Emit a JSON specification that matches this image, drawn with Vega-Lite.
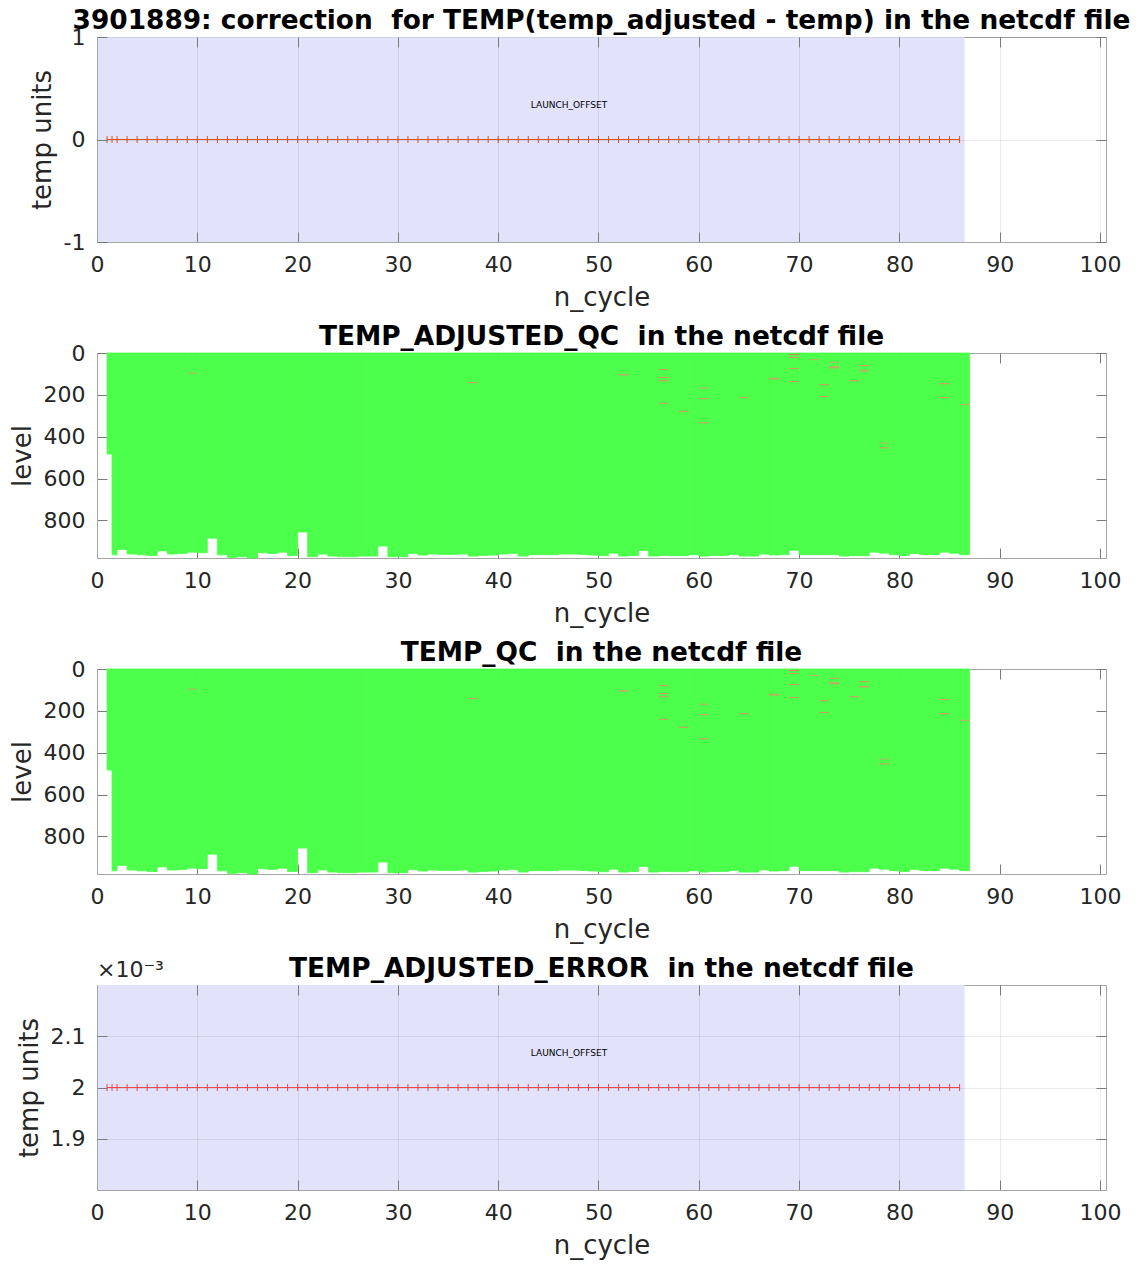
{
  "$schema": "https://vega.github.io/schema/vega-lite/v6.json",
  "padding": {"left": 8, "top": 7, "right": 10, "bottom": 10},
  "background": "white",
  "spacing": 111,
  "bounds": "flush",
  "datasets": {
    "cycles": [
      {"cycle":1,"depth":483,"corr":0,"err":0.002},
      {"cycle":1.5,"depth":965,"corr":0,"err":0.002},
      {"cycle":2,"depth":939,"corr":0,"err":0.002},
      {"cycle":3,"depth":961,"corr":0,"err":0.002},
      {"cycle":4,"depth":965,"corr":0,"err":0.002},
      {"cycle":5,"depth":968,"corr":0,"err":0.002},
      {"cycle":6,"depth":946,"corr":0,"err":0.002},
      {"cycle":7,"depth":961,"corr":0,"err":0.002},
      {"cycle":8,"depth":958,"corr":0,"err":0.002},
      {"cycle":9,"depth":952,"corr":0,"err":0.002},
      {"cycle":10,"depth":955,"corr":0,"err":0.002},
      {"cycle":11,"depth":885,"corr":0,"err":0.002},
      {"cycle":12,"depth":965,"corr":0,"err":0.002},
      {"cycle":13,"depth":977,"corr":0,"err":0.002},
      {"cycle":14,"depth":974,"corr":0,"err":0.002},
      {"cycle":15,"depth":980,"corr":0,"err":0.002},
      {"cycle":16,"depth":955,"corr":0,"err":0.002},
      {"cycle":17,"depth":958,"corr":0,"err":0.002},
      {"cycle":18,"depth":952,"corr":0,"err":0.002},
      {"cycle":19,"depth":968,"corr":0,"err":0.002},
      {"cycle":20,"depth":856,"corr":0,"err":0.002},
      {"cycle":21,"depth":974,"corr":0,"err":0.002},
      {"cycle":22,"depth":961,"corr":0,"err":0.002},
      {"cycle":23,"depth":971,"corr":0,"err":0.002},
      {"cycle":24,"depth":974,"corr":0,"err":0.002},
      {"cycle":25,"depth":974,"corr":0,"err":0.002},
      {"cycle":26,"depth":971,"corr":0,"err":0.002},
      {"cycle":27,"depth":971,"corr":0,"err":0.002},
      {"cycle":28,"depth":923,"corr":0,"err":0.002},
      {"cycle":29,"depth":974,"corr":0,"err":0.002},
      {"cycle":30,"depth":974,"corr":0,"err":0.002},
      {"cycle":31,"depth":958,"corr":0,"err":0.002},
      {"cycle":32,"depth":966,"corr":0,"err":0.002},
      {"cycle":33,"depth":961,"corr":0,"err":0.002},
      {"cycle":34,"depth":963,"corr":0,"err":0.002},
      {"cycle":35,"depth":963,"corr":0,"err":0.002},
      {"cycle":36,"depth":961,"corr":0,"err":0.002},
      {"cycle":37,"depth":971,"corr":0,"err":0.002},
      {"cycle":38,"depth":968,"corr":0,"err":0.002},
      {"cycle":39,"depth":966,"corr":0,"err":0.002},
      {"cycle":40,"depth":961,"corr":0,"err":0.002},
      {"cycle":41,"depth":958,"corr":0,"err":0.002},
      {"cycle":42,"depth":971,"corr":0,"err":0.002},
      {"cycle":43,"depth":964,"corr":0,"err":0.002},
      {"cycle":44,"depth":964,"corr":0,"err":0.002},
      {"cycle":45,"depth":964,"corr":0,"err":0.002},
      {"cycle":46,"depth":961,"corr":0,"err":0.002},
      {"cycle":47,"depth":961,"corr":0,"err":0.002},
      {"cycle":48,"depth":963,"corr":0,"err":0.002},
      {"cycle":49,"depth":966,"corr":0,"err":0.002},
      {"cycle":50,"depth":969,"corr":0,"err":0.002},
      {"cycle":51,"depth":957,"corr":0,"err":0.002},
      {"cycle":52,"depth":971,"corr":0,"err":0.002},
      {"cycle":53,"depth":968,"corr":0,"err":0.002},
      {"cycle":54,"depth":944,"corr":0,"err":0.002},
      {"cycle":55,"depth":971,"corr":0,"err":0.002},
      {"cycle":56,"depth":968,"corr":0,"err":0.002},
      {"cycle":57,"depth":969,"corr":0,"err":0.002},
      {"cycle":58,"depth":969,"corr":0,"err":0.002},
      {"cycle":59,"depth":964,"corr":0,"err":0.002},
      {"cycle":60,"depth":971,"corr":0,"err":0.002},
      {"cycle":61,"depth":968,"corr":0,"err":0.002},
      {"cycle":62,"depth":968,"corr":0,"err":0.002},
      {"cycle":63,"depth":963,"corr":0,"err":0.002},
      {"cycle":64,"depth":971,"corr":0,"err":0.002},
      {"cycle":65,"depth":971,"corr":0,"err":0.002},
      {"cycle":66,"depth":961,"corr":0,"err":0.002},
      {"cycle":67,"depth":966,"corr":0,"err":0.002},
      {"cycle":68,"depth":964,"corr":0,"err":0.002},
      {"cycle":69,"depth":943,"corr":0,"err":0.002},
      {"cycle":70,"depth":964,"corr":0,"err":0.002},
      {"cycle":71,"depth":964,"corr":0,"err":0.002},
      {"cycle":72,"depth":964,"corr":0,"err":0.002},
      {"cycle":73,"depth":964,"corr":0,"err":0.002},
      {"cycle":74,"depth":971,"corr":0,"err":0.002},
      {"cycle":75,"depth":969,"corr":0,"err":0.002},
      {"cycle":76,"depth":969,"corr":0,"err":0.002},
      {"cycle":77,"depth":952,"corr":0,"err":0.002},
      {"cycle":78,"depth":957,"corr":0,"err":0.002},
      {"cycle":79,"depth":964,"corr":0,"err":0.002},
      {"cycle":80,"depth":968,"corr":0,"err":0.002},
      {"cycle":81,"depth":958,"corr":0,"err":0.002},
      {"cycle":82,"depth":963,"corr":0,"err":0.002},
      {"cycle":83,"depth":964,"corr":0,"err":0.002},
      {"cycle":84,"depth":952,"corr":0,"err":0.002},
      {"cycle":85,"depth":957,"corr":0,"err":0.002},
      {"cycle":86,"depth":964,"corr":0,"err":0.002}
    ],
    "qc": [
      {"cycle":9,"lev_top":94,"lev_bot":99,"flag":"2"},
      {"cycle":37,"lev_top":139,"lev_bot":144,"flag":"3"},
      {"cycle":52,"lev_top":100,"lev_bot":108,"flag":"2"},
      {"cycle":56,"lev_top":77,"lev_bot":82,"flag":"3"},
      {"cycle":56,"lev_top":115,"lev_bot":120,"flag":"3"},
      {"cycle":56,"lev_top":130,"lev_bot":135,"flag":"3"},
      {"cycle":56,"lev_top":238,"lev_bot":243,"flag":"3"},
      {"cycle":58,"lev_top":276,"lev_bot":281,"flag":"3"},
      {"cycle":60,"lev_top":166,"lev_bot":171,"flag":"2"},
      {"cycle":60,"lev_top":216,"lev_bot":221,"flag":"3"},
      {"cycle":60,"lev_top":331,"lev_bot":336,"flag":"3"},
      {"cycle":64,"lev_top":211,"lev_bot":216,"flag":"3"},
      {"cycle":67,"lev_top":118,"lev_bot":128,"flag":"2"},
      {"cycle":69,"lev_top":5,"lev_bot":10,"flag":"4"},
      {"cycle":69,"lev_top":19,"lev_bot":24,"flag":"3"},
      {"cycle":69,"lev_top":72,"lev_bot":77,"flag":"3"},
      {"cycle":69,"lev_top":134,"lev_bot":139,"flag":"3"},
      {"cycle":71,"lev_top":29,"lev_bot":34,"flag":"2"},
      {"cycle":72,"lev_top":149,"lev_bot":154,"flag":"3"},
      {"cycle":72,"lev_top":206,"lev_bot":211,"flag":"3"},
      {"cycle":73,"lev_top":42,"lev_bot":47,"flag":"2"},
      {"cycle":73,"lev_top":62,"lev_bot":74,"flag":"2"},
      {"cycle":75,"lev_top":130,"lev_bot":135,"flag":"3"},
      {"cycle":76,"lev_top":58,"lev_bot":63,"flag":"3"},
      {"cycle":76,"lev_top":80,"lev_bot":89,"flag":"2"},
      {"cycle":78,"lev_top":428,"lev_bot":433,"flag":"2"},
      {"cycle":78,"lev_top":451,"lev_bot":456,"flag":"3"},
      {"cycle":84,"lev_top":144,"lev_bot":149,"flag":"3"},
      {"cycle":84,"lev_top":211,"lev_bot":216,"flag":"3"},
      {"cycle":86,"lev_top":243,"lev_bot":249,"flag":"2"}
    ],
    "method": [
      {"label":"LAUNCH_OFFSET","cycle_start":0,"cycle_end":86.5}
    ]
  },
  "config": {
    "font": "DejaVu Sans",
    "view": {"stroke": "#a6a6a6", "strokeWidth": 1},
    "axis": {
      "labelFont": "DejaVu Sans", "labelFontSize": 22, "labelColor": "#262626", "labelFlush": false,
      "titleFont": "DejaVu Sans", "titleFontSize": 26, "titleFontWeight": "normal", "titleColor": "#262626",
      "domainColor": "#a6a6a6", "tickColor": "#7a7a7a", "tickSize": -10, "labelPadding": 22, "grid": false
    },
    "axisX": {"titlePadding": 9},
    "axisY": {"titlePadding": 8},
    "title": {"font": "DejaVu Sans", "fontSize": 26.4, "fontWeight": "bold", "color": "#000000", "offset": -8}
  },
  "vconcat": [
    {
      "title": {"text": "3901889: correction \u00a0for TEMP(temp_adjusted - temp) in the netcdf file"},
      "width": 1009, "height": 205,
      "resolve": {"axis": {"x": "independent", "y": "independent"}},
      "layer": [
        {
          "data": {"name": "method"},
          "mark": {"type": "rect", "color": "#e2e2fb"},
          "encoding": {
            "x": {"field": "cycle_start", "type": "quantitative", "scale": {"domain": [0, 100.6], "nice": false, "padding": 0}, "axis": {"values": [0,10,20,30,40,50,60,70,80,90,100], "title": "n_cycle", "grid": true, "gridColor": "#262626", "gridOpacity": 0.09, "zindex": 1}},
            "x2": {"field": "cycle_end"}
          }
        },
        {
          "data": {"name": "cycles"},
          "mark": {"type": "line", "color": "#d95319", "strokeWidth": 1},
          "encoding": {
            "x": {"field": "cycle", "type": "quantitative", "axis": null},
            "y": {"field": "corr", "type": "quantitative", "scale": {"domain": [-1, 1], "nice": false, "padding": 0}, "axis": {"values": [-1, 0, 1], "labelExpr": "datum.value < 0 ? '-' + abs(datum.value) : '' + datum.value", "title": "temp units", "grid": true, "gridColor": "#262626", "gridOpacity": 0.09, "zindex": 1}}
          }
        },
        {
          "data": {"name": "cycles"},
          "mark": {"type": "tick", "orient": "vertical", "color": "#d95319", "size": 7, "thickness": 1, "opacity": 1},
          "encoding": {
            "x": {"field": "cycle", "type": "quantitative", "axis": {"orient": "top", "values": [0,10,20,30,40,50,60,70,80,90,100], "labels": false, "domain": false, "title": null, "grid": false, "zindex": 1}},
            "y": {"field": "corr", "type": "quantitative", "axis": {"orient": "right", "values": [-1, 0, 1], "labels": false, "domain": false, "title": null, "grid": false, "zindex": 1}}
          }
        },
        {
          "data": {"name": "method"},
          "mark": {"type": "text", "font": "DejaVu Sans", "fontSize": 9, "color": "#000000", "align": "left", "baseline": "middle"},
          "transform": [{"calculate": "(datum.cycle_start + datum.cycle_end) / 2", "as": "mid"}],
          "encoding": {
            "x": {"field": "mid", "type": "quantitative", "axis": null},
            "y": {"datum": 0.335, "axis": null},
            "text": {"field": "label"}
          }
        }
      ]
    },
    {
      "title": {"text": "TEMP_ADJUSTED_QC \u00a0in the netcdf file"},
      "width": 1009, "height": 205,
      "resolve": {"axis": {"x": "independent", "y": "independent"}},
      "layer": [
        {
          "data": {"name": "cycles"},
          "transform": [
            {"window": [{"op": "lead", "field": "cycle", "as": "next"}], "sort": [{"field": "cycle"}]},
            {"calculate": "datum.next == null ? datum.cycle + 1 : datum.next", "as": "cycle_end"}
          ],
          "mark": {"type": "bar", "orient": "vertical", "color": "#4bff4b", "stroke": "#4bff4b", "strokeWidth": 0.8},
          "encoding": {
            "x": {"field": "cycle", "type": "quantitative", "scale": {"domain": [0, 100.6], "nice": false, "padding": 0}, "axis": {"values": [0,10,20,30,40,50,60,70,80,90,100], "title": "n_cycle"}},
            "x2": {"field": "cycle_end"},
            "y": {"field": "depth", "type": "quantitative", "scale": {"domain": [0, 980], "nice": false, "reverse": true, "padding": 0}, "axis": {"values": [0,200,400,600,800], "title": "level"}}
          }
        },
        {
          "data": {"name": "qc"},
          "transform": [{"calculate": "datum.cycle + 1", "as": "cycle_end"}],
          "mark": {"type": "rect"},
          "encoding": {
            "x": {"field": "cycle", "type": "quantitative", "axis": {"orient": "top", "values": [0,10,20,30,40,50,60,70,80,90,100], "labels": false, "domain": false, "title": null}},
            "x2": {"field": "cycle_end"},
            "y": {"field": "lev_top", "type": "quantitative", "axis": {"orient": "right", "values": [0,200,400,600,800], "labels": false, "domain": false, "title": null}},
            "y2": {"field": "lev_bot"},
            "color": {"field": "flag", "type": "nominal", "scale": {"domain": ["2", "3", "4"], "range": ["#b4b45c", "#d39a5c", "#e07a5a"]}, "legend": null}
          }
        }
      ]
    },
    {
      "title": {"text": "TEMP_QC \u00a0in the netcdf file"},
      "width": 1009, "height": 205,
      "resolve": {"axis": {"x": "independent", "y": "independent"}},
      "layer": [
        {
          "data": {"name": "cycles"},
          "transform": [
            {"window": [{"op": "lead", "field": "cycle", "as": "next"}], "sort": [{"field": "cycle"}]},
            {"calculate": "datum.next == null ? datum.cycle + 1 : datum.next", "as": "cycle_end"}
          ],
          "mark": {"type": "bar", "orient": "vertical", "color": "#4bff4b", "stroke": "#4bff4b", "strokeWidth": 0.8},
          "encoding": {
            "x": {"field": "cycle", "type": "quantitative", "scale": {"domain": [0, 100.6], "nice": false, "padding": 0}, "axis": {"values": [0,10,20,30,40,50,60,70,80,90,100], "title": "n_cycle"}},
            "x2": {"field": "cycle_end"},
            "y": {"field": "depth", "type": "quantitative", "scale": {"domain": [0, 980], "nice": false, "reverse": true, "padding": 0}, "axis": {"values": [0,200,400,600,800], "title": "level"}}
          }
        },
        {
          "data": {"name": "qc"},
          "transform": [{"calculate": "datum.cycle + 1", "as": "cycle_end"}],
          "mark": {"type": "rect"},
          "encoding": {
            "x": {"field": "cycle", "type": "quantitative", "axis": {"orient": "top", "values": [0,10,20,30,40,50,60,70,80,90,100], "labels": false, "domain": false, "title": null}},
            "x2": {"field": "cycle_end"},
            "y": {"field": "lev_top", "type": "quantitative", "axis": {"orient": "right", "values": [0,200,400,600,800], "labels": false, "domain": false, "title": null}},
            "y2": {"field": "lev_bot"},
            "color": {"field": "flag", "type": "nominal", "scale": {"domain": ["2", "3", "4"], "range": ["#b4b45c", "#d39a5c", "#e07a5a"]}, "legend": null}
          }
        }
      ]
    },
    {
      "title": {"text": "TEMP_ADJUSTED_ERROR \u00a0in the netcdf file", "offset": -23},
      "width": 1009, "height": 205,
      "resolve": {"axis": {"x": "independent", "y": "independent"}},
      "layer": [
        {
          "data": {"name": "method"},
          "mark": {"type": "rect", "color": "#e2e2fb"},
          "encoding": {
            "x": {"field": "cycle_start", "type": "quantitative", "scale": {"domain": [0, 100.6], "nice": false, "padding": 0}, "axis": {"values": [0,10,20,30,40,50,60,70,80,90,100], "title": "n_cycle", "grid": true, "gridColor": "#262626", "gridOpacity": 0.09, "zindex": 1}},
            "x2": {"field": "cycle_end"}
          }
        },
        {
          "data": {"name": "cycles"},
          "mark": {"type": "line", "color": "#f04848", "strokeWidth": 1},
          "encoding": {
            "x": {"field": "cycle", "type": "quantitative", "axis": null},
            "y": {"field": "err", "type": "quantitative", "scale": {"domain": [0.0018, 0.0022], "nice": false, "zero": false, "padding": 0}, "axis": {"values": [0.0019, 0.002, 0.0021], "labelExpr": "format(datum.value * 1000, '.1~f')", "title": "temp units", "grid": true, "gridColor": "#262626", "gridOpacity": 0.09, "zindex": 1}}
          }
        },
        {
          "data": {"name": "cycles"},
          "mark": {"type": "tick", "orient": "vertical", "color": "#f04848", "size": 7, "thickness": 1, "opacity": 1},
          "encoding": {
            "x": {"field": "cycle", "type": "quantitative", "axis": {"orient": "top", "values": [0,10,20,30,40,50,60,70,80,90,100], "labels": false, "domain": false, "title": null, "grid": false, "zindex": 1}},
            "y": {"field": "err", "type": "quantitative", "axis": {"orient": "right", "values": [0.0019, 0.002, 0.0021], "labels": false, "domain": false, "title": null, "grid": false, "zindex": 1}}
          }
        },
        {
          "data": {"name": "method"},
          "mark": {"type": "text", "font": "DejaVu Sans", "fontSize": 9, "color": "#000000", "align": "left", "baseline": "middle"},
          "transform": [{"calculate": "(datum.cycle_start + datum.cycle_end) / 2", "as": "mid"}],
          "encoding": {
            "x": {"field": "mid", "type": "quantitative", "axis": null},
            "y": {"datum": 0.002067, "axis": null},
            "text": {"field": "label"}
          }
        },
        {
          "data": {"name": "method"},
          "mark": {"type": "text", "font": "DejaVu Sans", "fontSize": 22, "color": "#262626", "align": "left", "baseline": "bottom", "dy": -3, "clip": false},
          "encoding": {
            "x": {"field": "cycle_start", "type": "quantitative", "axis": null},
            "y": {"datum": 0.0022, "axis": null},
            "text": {"value": "×10⁻³"}
          }
        }
      ]
    }
  ]
}
